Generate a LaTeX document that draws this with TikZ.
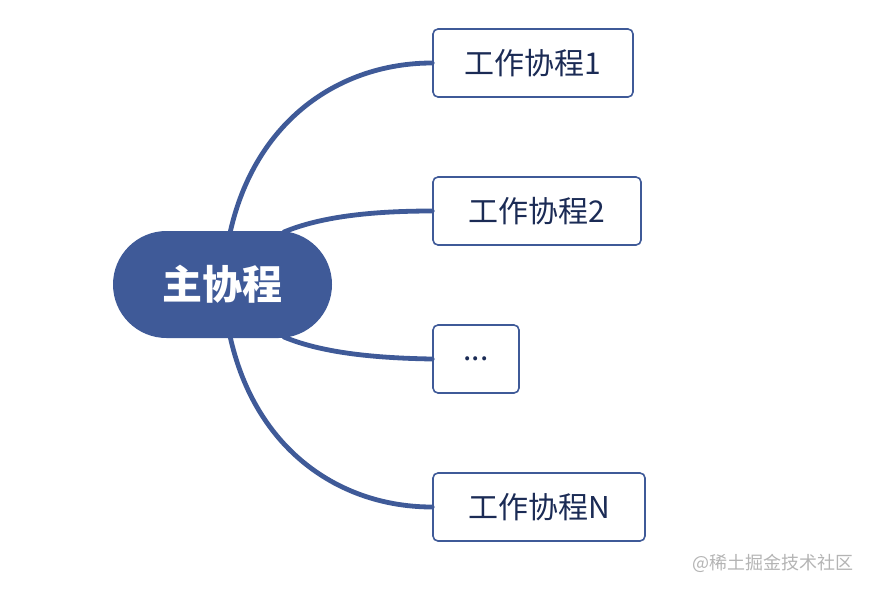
\documentclass[tikz,border=0pt]{standalone}
\usepackage{fontspec}
\usetikzlibrary{shapes.misc}
\newfontfamily\cjk{Noto Sans CJK SC}
\definecolor{mainblue}{HTML}{3F5A98}
\definecolor{textnavy}{HTML}{1B2B55}
\definecolor{wmgray}{HTML}{B4B4B4}
\begin{document}
\begin{tikzpicture}[x=1pt,y=-1pt,
  mainnode/.style={rounded rectangle,fill=mainblue,minimum width=219pt,minimum height=107pt,inner sep=0pt,text=white,font=\cjk\bfseries\fontsize{40}{42}\selectfont},
  workbox/.style={draw=mainblue,line width=1.6pt,rounded corners=5pt,fill=white,minimum height=68pt,inner sep=0pt,text=textnavy,font=\cjk\fontsize{30}{32}\selectfont},
  link/.style={draw=mainblue,line width=4.8pt,line cap=round}]
\useasboundingbox (0,0) rectangle (872,592);
\node[mainnode] (main) at (222.5,284.5) {主协程};
\node[workbox,minimum width=200pt] (w1) at (533,63) {工作协程1};
\node[workbox,minimum width=208pt] (w2) at (537,211) {工作协程2};
\node[workbox,minimum width=86pt] (w3) at (476,359) {...};
\node[workbox,minimum width=212pt] (w4) at (539,507) {工作协程N};
\coordinate (s1) at (230,233);
\coordinate (s2) at (284,232);
\coordinate (s3) at (284,337);
\coordinate (s4) at (230,336);
\draw[link] (s1) .. controls (255,120) and (340,63) .. (w1.west);
\draw[link] (s2) .. controls (320,217) and (370,211) .. (w2.west);
\draw[link] (s3) .. controls (320,352) and (370,358) .. (w3.west);
\draw[link] (s4) .. controls (255,450) and (340,507) .. (w4.west);
\node[text=wmgray,font=\cjk\fontsize{18}{20}\selectfont,anchor=east,inner sep=0pt] (wm) at (854,563) {@稀土掘金技术社区};
\end{tikzpicture}
\end{document}
